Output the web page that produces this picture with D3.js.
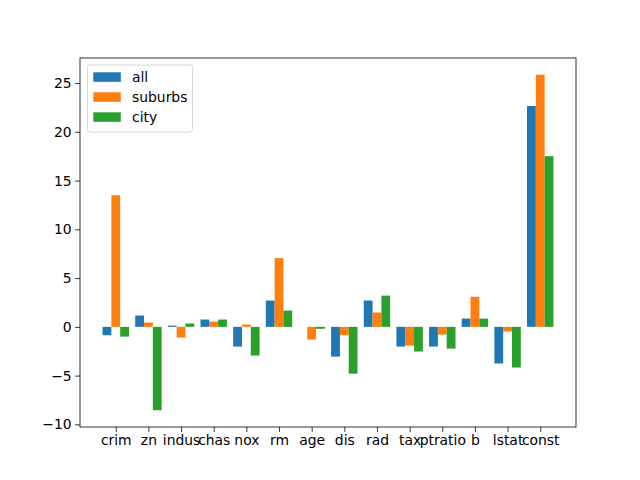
<!DOCTYPE html>
<html>
<head>
<meta charset="utf-8">
<script src="https://cdn.jsdelivr.net/npm/d3@7"></script>
<style>
  body { margin: 0; background: white; }
  text { font-family: "DejaVu Sans", sans-serif; }
</style>
</head>
<body>
<div id="d3-container"></div>
<script>
// coefficients per feature for each model
const categories = ['crim', 'zn', 'indus', 'chas', 'nox', 'rm', 'age', 'dis', 'rad', 'tax', 'ptratio', 'b', 'lstat', 'const'];
const allVals = [-0.86, 1.16, 0.13, 0.75, -2.02, 2.7, 0.0, -3.05, 2.7, -2.02, -2.02, 0.85, -3.76, 22.65];
const suburbsVals = [13.5, 0.44, -1.1, 0.54, 0.24, 7.05, -1.3, -0.86, 1.47, -1.92, -0.79, 3.08, -0.48, 25.85];
const cityVals = [-1.0, -8.55, 0.34, 0.75, -2.94, 1.67, -0.2, -4.8, 3.2, -2.53, -2.23, 0.85, -4.17, 17.5];
const seriesNames = ['all', 'suburbs', 'city'];
const yTicks = [-10, -5, 0, 5, 10, 15, 20, 25];

const colors = ['#1f77b4', '#ff7f0e', '#2ca02c'];
const series = [allVals, suburbsVals, cityVals];

let margin = { top: 58, left: 80, right: 64, bottom: 53 },
  width = 640 - margin.left - margin.right,
  height = 480 - margin.top - margin.bottom;

let svg = d3
  .select('#d3-container')
  .append('svg')
  .attr('width', 640)
  .attr('height', 480)
  .style('display', 'block');

let g = svg.append('g').attr('transform', 'translate(' + margin.left + ',' + margin.top + ')');

const w = 0.27;
// matplotlib-like 5% margins
let xmin = -w * 1.5, xmax = categories.length - 1 + w * 1.5;
let xpad = (xmax - xmin) * 0.05;
let xScale = d3.scaleLinear().domain([xmin - xpad, xmax + xpad]).range([0, width]);

let allData = d3.merge(series);
let ymin = Math.min(0, d3.min(allData)), ymax = Math.max(0, d3.max(allData));
let ypad = (ymax - ymin) * 0.05;
let yScale = d3.scaleLinear().domain([ymin - ypad, ymax + ypad]).range([height, 0]);

series.forEach(function (vals, s) {
  g.selectAll('.bar' + s)
    .data(vals)
    .enter()
    .append('rect')
    .attr('x', function (d, i) { return xScale(i + (s - 1) * w - w / 2); })
    .attr('width', function (d, i) { return xScale(i + (s - 1) * w + w / 2) - xScale(i + (s - 1) * w - w / 2); })
    .attr('y', function (d) { return yScale(Math.max(0, d)); })
    .attr('height', function (d) { return Math.abs(yScale(d) - yScale(0)); })
    .attr('fill', colors[s]);
});

let xAxis = g.append('g')
  .attr('transform', 'translate(0,' + height + ')')
  .call(d3.axisBottom(xScale)
    .tickValues(d3.range(categories.length))
    .tickFormat(function (d) { return categories[d]; })
    .tickSizeOuter(0)
    .tickSize(4.9)
    .tickPadding(3.5));

let yAxis = g.append('g')
  .call(d3.axisLeft(yScale)
    .tickValues(yTicks)
    .tickFormat(function (d) { return d < 0 ? '\u2212' + Math.abs(d) : d; })
    .tickSizeOuter(0)
    .tickSize(4.9)
    .tickPadding(3.5));

[xAxis, yAxis].forEach(function (ax) {
  ax.select('.domain').remove();
  ax.selectAll('text').style('font-size', '13.9px').attr('fill', 'black');
  ax.selectAll('line').attr('stroke', 'black').attr('stroke-width', 0.8);
});

// frame
g.append('rect')
  .attr('width', width)
  .attr('height', height)
  .attr('fill', 'none')
  .attr('stroke', 'black')
  .attr('stroke-width', 0.8);

// legend
let legend = g.append('g').attr('transform', 'translate(7.5,7)');
legend.append('rect')
  .attr('width', 105)
  .attr('height', 67)
  .attr('rx', 2.5)
  .attr('fill', 'white')
  .attr('fill-opacity', 0.8)
  .attr('stroke', '#cccccc')
  .attr('stroke-width', 0.8);
seriesNames.forEach(function (name, i) {
  legend.append('rect')
    .attr('x', 5.8)
    .attr('y', 7.3 + i * 20)
    .attr('width', 27.5)
    .attr('height', 9.5)
    .attr('fill', colors[i]);
  legend.append('text')
    .attr('x', 44.5)
    .attr('y', 12 + i * 20)
    .attr('dy', '0.35em')
    .style('font-size', '13.9px')
    .text(name);
});
</script>
</body>
</html>
